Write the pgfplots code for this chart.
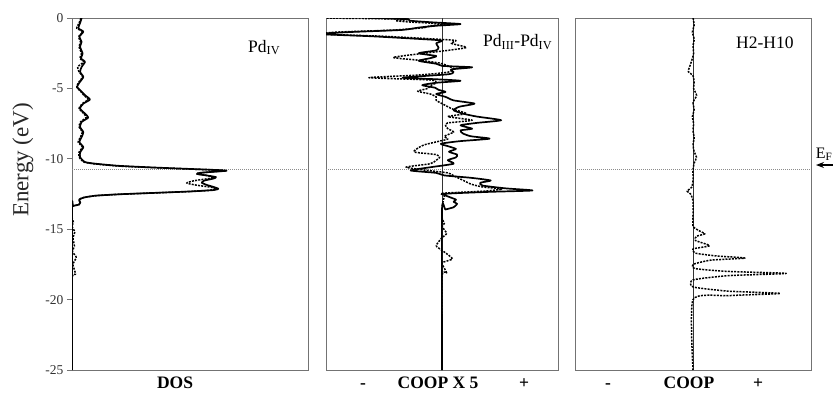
\documentclass[border=0pt]{standalone}
\usepackage{fontspec}
\setmainfont{Liberation Serif}
\usepackage{pgfplots}
\usetikzlibrary{arrows.meta}
\pgfplotsset{compat=1.18}
\begin{document}
\begin{tikzpicture}[x=1pt,y=1pt]
\useasboundingbox (0,0) rectangle (833,392);
\pgfplotsset{
  panel/.style={scale only axis, height=352pt, ymin=-25, ymax=0, anchor=south west,
    axis line style={black!55, line width=0.9pt}, clip=true, xtick=\empty},
  solidc/.style={black, line width=1.7pt, line join=round, smooth, tension=0.35},
  dotc/.style={black, line width=1.5pt, dash pattern=on 2pt off 1.2pt, line join=round, smooth, tension=0.35},
  fermi/.style={black!45, line width=0.8pt, dash pattern=on 1pt off 1pt},
}
% ---------------- Panel 1: DOS ----------------
\begin{axis}[panel, at={(72pt,22pt)}, width=236pt, xmin=0, xmax=1,
  ytick={-25,-20,...,0}, ytick pos=left, tick align=outside, major tick length=5pt,
  every tick/.style={black!55, line width=0.8pt},
  yticklabel style={font=\fontsize{13.5}{13.5}\selectfont, text=black!80},
  /pgf/number format/assume math mode=true]
\addplot[fermi] coordinates {(0,-10.78) (1,-10.78)};
\addplot[dotc] coordinates {
(0.038,0) (0.030,-0.36) (0.020,-0.73) (0.045,-0.97) (0.028,-1.33) (0.036,-1.69) (0.030,-2.04)
(0.040,-2.52) (0.033,-2.87) (0.050,-3.11) (0.024,-3.47) (0.030,-3.82) (0.045,-4.18)
(0.030,-4.53) (0.020,-4.89) (0.038,-5.24) (0.050,-5.48) (0.068,-5.79) (0.044,-6.08)
(0.030,-6.43) (0.050,-6.79) (0.060,-7.07) (0.036,-7.38) (0.030,-7.74) (0.044,-8.1)
(0.036,-8.45) (0.026,-8.81) (0.044,-9.17) (0.030,-9.52) (0.030,-9.88) (0.050,-10.23)
(0.10,-10.37) (0.2,-10.52) (0.35,-10.63) (0.5,-10.73) (0.62,-10.8) (0.65,-10.85)
(0.6,-10.92) (0.54,-11.0) (0.53,-11.08) (0.57,-11.18) (0.60,-11.3) (0.58,-11.4)
(0.52,-11.55) (0.486,-11.72) (0.53,-11.88) (0.59,-12.02) (0.61,-12.13) (0.59,-12.22)
(0.5,-12.32) (0.35,-12.42) (0.2,-12.52) (0.1,-12.62) (0.05,-12.75) (0.03,-12.9)
(0.035,-13.1) (0.03,-13.25) (0.005,-13.35) (0,-13.6) (0,-14.2) (0.006,-14.5) (0,-14.8)
(0.012,-15.2) (0.004,-15.6) (0.010,-16.2) (0.002,-16.6) (0.018,-17.0) (0.004,-17.5)
(0.015,-18.2) (0,-18.6) (0,-25)};
\addplot[solidc] coordinates {
(0.041,0) (0.034,-0.36) (0.027,-0.73) (0.048,-0.97) (0.031,-1.33) (0.041,-1.69) (0.034,-2.04)
(0.045,-2.52) (0.038,-2.87) (0.055,-3.11) (0.041,-3.47) (0.034,-3.82) (0.048,-4.18)
(0.034,-4.53) (0.022,-4.89) (0.041,-5.24) (0.055,-5.48) (0.076,-5.79) (0.048,-6.08)
(0.034,-6.43) (0.055,-6.79) (0.069,-7.07) (0.041,-7.38) (0.034,-7.74) (0.048,-8.1)
(0.041,-8.45) (0.031,-8.81) (0.048,-9.17) (0.035,-9.52) (0.034,-9.88) (0.055,-10.23)
(0.10,-10.35) (0.2,-10.5) (0.35,-10.62) (0.5,-10.72) (0.62,-10.8) (0.655,-10.85)
(0.6,-10.92) (0.54,-11.0) (0.53,-11.08) (0.57,-11.18) (0.61,-11.3) (0.60,-11.4)
(0.56,-11.55) (0.55,-11.7) (0.57,-11.85) (0.60,-12.0) (0.62,-12.13) (0.60,-12.22)
(0.5,-12.32) (0.35,-12.42) (0.2,-12.52) (0.1,-12.62) (0.05,-12.75) (0.03,-12.9)
(0.035,-13.1) (0.03,-13.25) (0.005,-13.35) (0,-13.5) (0,-25)};
\end{axis}
% ---------------- Panel 2: COOP x 5 ----------------
\begin{axis}[panel, at={(326pt,22pt)}, width=232pt, xmin=-1, xmax=1, ytick=\empty]
\addplot[fermi] coordinates {(-1,-10.78) (1,-10.78)};
\addplot[black!80, line width=0.7pt] coordinates {(0,0) (0,-25)};
\addplot[dotc] coordinates {
(-1.05,0) (-0.3,-0.08) (-0.4,-0.19) (-0.25,-0.3) (0.05,-0.43) (-0.1,-0.55) (-0.15,-0.68)
(-0.4,-0.85) (-0.9,-1.0) (-1.05,-1.14) (-0.5,-1.3) (-0.05,-1.5) (0.12,-1.6) (0.08,-1.8)
(0.21,-2.09) (0.05,-2.3) (-0.15,-2.5) (-0.42,-2.8) (-0.2,-3.0) (-0.02,-3.2) (0.05,-3.4)
(0.1,-3.6) (0.05,-3.85) (-0.2,-4.05) (-0.63,-4.24) (-0.1,-4.4) (-0.05,-4.6) (-0.1,-4.8)
(-0.12,-5.0) (-0.21,-5.2) (-0.1,-5.4) (-0.05,-5.6) (-0.05,-5.85) (0.0,-6.08) (0.05,-6.3)
(0.1,-6.5) (0.21,-6.79) (0.05,-7.0) (0.26,-7.26) (0.05,-7.45) (0.03,-7.62) (0.05,-7.86)
(0.1,-8.1) (0.02,-8.4) (0.05,-8.6) (-0.05,-8.8) (-0.15,-9.0) (-0.2,-9.2) (-0.24,-9.52)
(-0.05,-9.7) (-0.02,-9.9) (-0.05,-10.1) (-0.1,-10.35) (-0.31,-10.59) (-0.15,-10.8)
(0.05,-11.0) (0.1,-11.2) (0.15,-11.4) (0.2,-11.6) (0.25,-11.8) (0.35,-12.0) (0.52,-12.15)
(0.35,-12.3) (0.0,-12.45) (0.02,-12.6) (0.01,-13.0) (0,-13.5) (0,-14.2) (0.02,-14.6)
(0,-14.8) (0.04,-15.3) (0,-15.6) (-0.05,-16.17) (0,-16.5) (0.09,-17.1) (0,-17.4)
(0.04,-18.1) (0,-18.4) (0,-25)};
\addplot[solidc] coordinates {
(-0.63,0) (-0.3,-0.08) (-0.28,-0.19) (-0.1,-0.3) (0.16,-0.43) (-0.05,-0.55) (-0.2,-0.68)
(-0.35,-0.85) (-0.8,-1.0) (-1.05,-1.14) (-0.6,-1.3) (-0.17,-1.5) (0.0,-1.6) (-0.05,-1.8)
(-0.03,-2.09) (-0.05,-2.3) (-0.2,-2.5) (-0.05,-2.7) (-0.1,-2.85) (-0.2,-3.04) (-0.05,-3.25)
(0.0,-3.4) (0.26,-3.5) (0.08,-3.65) (0.1,-3.85) (0.05,-4.0) (-0.34,-4.24) (-0.05,-4.35)
(0.16,-4.46) (-0.05,-4.6) (-0.17,-4.77) (-0.06,-4.95) (-0.03,-5.1) (0.03,-5.25)
(-0.05,-5.4) (0.03,-5.6) (0.1,-5.85) (0.28,-6.08) (0.15,-6.3) (0.1,-6.55) (0.18,-6.79)
(0.3,-7.0) (0.51,-7.26) (0.3,-7.45) (0.16,-7.62) (0.26,-7.86) (0.16,-7.98) (0.18,-8.2)
(0.25,-8.4) (0.41,-8.57) (0.15,-8.75) (-0.01,-8.93) (0.05,-9.1) (0.12,-9.3) (0.06,-9.5)
(0.13,-9.7) (0.12,-9.9) (0.05,-10.1) (0.1,-10.35) (-0.1,-10.6) (-0.27,-10.83)
(-0.05,-11.0) (0.02,-11.18) (0.25,-11.35) (0.42,-11.54) (0.33,-11.7) (0.35,-11.9)
(0.55,-12.1) (0.78,-12.25) (0.4,-12.35) (0.02,-12.49) (0.06,-12.7) (0.12,-12.9)
(0.1,-13.05) (0.13,-13.2) (0.1,-13.44) (0.03,-13.6) (0,-13.68) (0,-25)};
\end{axis}
% ---------------- Panel 3: COOP ----------------
\begin{axis}[panel, at={(575pt,22pt)}, width=236pt, xmin=-1, xmax=1, ytick=\empty]
\addplot[fermi] coordinates {(-1,-10.78) (1,-10.78)};
\addplot[black!80, line width=0.7pt] coordinates {(0,0) (0,-25)};
\addplot[dotc] coordinates {
(0,0) (0.01,-0.5) (-0.005,-1.0) (0.01,-1.5) (0,-2.0) (0.005,-2.5) (-0.01,-3.0) (-0.03,-3.5)
(-0.04,-3.8) (0,-4.1) (0.01,-4.6) (0.005,-5.0) (0.03,-5.5) (0,-6.0) (0.01,-6.5)
(-0.005,-7.0) (0.005,-7.5) (0,-8.0) (0.01,-8.5) (0,-9.0) (0.01,-9.5) (0.03,-9.9)
(0.01,-10.3) (0,-10.8) (0,-11.5) (-0.01,-12.0) (-0.05,-12.3) (-0.02,-12.5) (0,-13.0)
(0,-14.0) (0,-14.8) (0.05,-15.1) (0.1,-15.33) (0.03,-15.5) (0.02,-15.8) (0.14,-16.17)
(0,-16.4) (0.02,-16.7) (0.2,-16.9) (0.44,-17.05) (0.15,-17.2) (0,-17.5) (0.02,-17.8)
(0.3,-18.0) (0.79,-18.14) (0.3,-18.3) (0,-18.6) (0,-19.1) (0.3,-19.4) (0.74,-19.56)
(0.3,-19.72) (0,-20.0) (0,-25)};
\end{axis}
% ---------------- Labels ----------------
\node[rotate=90, font=\fontsize{23}{23}\selectfont, text=black!85] at (23,232) {Energy (eV)};
\node[font=\fontsize{17.5}{17.5}\bfseries\selectfont, anchor=base] at (175,4) {DOS};
\node[font=\fontsize{17.5}{17.5}\bfseries\selectfont, anchor=base] at (438,4) {COOP X 5};
\node[font=\fontsize{17.5}{17.5}\bfseries\selectfont, anchor=base] at (363,4) {-};
\node[font=\fontsize{17.5}{17.5}\bfseries\selectfont, anchor=base] at (524,4) {+};
\node[font=\fontsize{17.5}{17.5}\bfseries\selectfont, anchor=base] at (689,4) {COOP};
\node[font=\fontsize{17.5}{17.5}\bfseries\selectfont, anchor=base] at (608,4) {-};
\node[font=\fontsize{17.5}{17.5}\bfseries\selectfont, anchor=base] at (758,4) {+};
\node[font=\fontsize{17.5}{17.5}\selectfont, anchor=base west, inner sep=0pt] at (248,340) {Pd\textsubscript{IV}};
\node[font=\fontsize{17.5}{17.5}\selectfont, anchor=base west, inner sep=0pt] at (483,345) {Pd\textsubscript{III}-Pd\textsubscript{IV}};
\node[font=\fontsize{17.5}{17.5}\selectfont, anchor=base west, inner sep=0pt] at (736,344) {H2-H10};
\node[font=\fontsize{16}{16}\selectfont, anchor=base east, inner sep=0pt] at (832.5,234) {E\textsubscript{F}};
\draw[-{Stealth[length=8pt,width=6pt]}, line width=1.2pt] (845,227) -- (816,227);
\end{tikzpicture}
\end{document}
